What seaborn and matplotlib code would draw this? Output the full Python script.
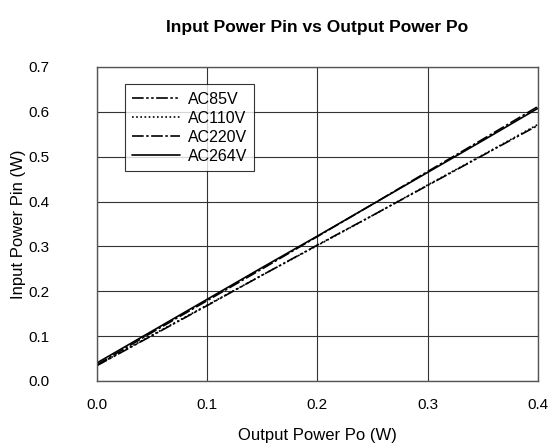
import numpy as np
import pandas as pd
import seaborn as sns
import matplotlib.pyplot as plt

output_power = [0.0, 0.05, 0.10, 0.15, 0.20, 0.25, 0.30, 0.35, 0.40]
ac85v = [0.034, 0.101, 0.168, 0.236, 0.303, 0.369, 0.436, 0.503, 0.570]
ac110v = [0.035, 0.102, 0.169, 0.236, 0.302, 0.369, 0.437, 0.504, 0.572]
ac220v = [0.036, 0.108, 0.179, 0.250, 0.322, 0.394, 0.467, 0.539, 0.612]
ac264v = [0.040, 0.111, 0.182, 0.253, 0.323, 0.394, 0.465, 0.536, 0.608]

series = ["AC85V", "AC110V", "AC220V", "AC264V"]
dash_styles = {
    "AC85V": (0, (7, 1.5, 1.5, 1.5, 1.5, 1.5)),
    "AC110V": (0, (1, 1.5)),
    "AC220V": (0, (7, 1.5, 1.5, 1.5)),
    "AC264V": "-",
}

df = pd.DataFrame({
    "Po": output_power * 4,
    "Pin": ac85v + ac110v + ac220v + ac264v,
    "series": [s for s in series for _ in output_power],
})

sns.set_style("white")
plt.rcParams["font.family"] = ["Liberation Sans", "DejaVu Sans"]
plt.rcParams["text.color"] = "black"
plt.rcParams["axes.labelcolor"] = "black"
plt.rcParams["xtick.color"] = "black"
plt.rcParams["ytick.color"] = "black"

fig = plt.figure(figsize=(5.53, 4.48), dpi=100)
ax = fig.add_axes([0.175, 0.1496, 0.798, 0.701])

for name in series:
    sns.lineplot(
        data=df[df["series"] == name],
        x="Po",
        y="Pin",
        color="black",
        linewidth=1.2,
        linestyle=dash_styles[name],
        label=name,
        ax=ax,
    )

ax.set_xlim(0, 0.4)
ax.set_ylim(0, 0.7)
ax.set_xticks(np.arange(0, 0.41, 0.1))
ax.set_yticks(np.arange(0, 0.71, 0.1))
ax.set_xticklabels([f"{v:.1f}" for v in np.arange(0, 0.41, 0.1)])
ax.set_yticklabels([f"{v:.1f}" for v in np.arange(0, 0.71, 0.1)])
ax.tick_params(length=0, labelsize=11)
ax.tick_params(axis="y", pad=34)
ax.tick_params(axis="x", pad=12)
ax.grid(True, color="#333333", linewidth=0.8)
for sp in ax.spines.values():
    sp.set_color("#555555")
    sp.set_linewidth(1.0)

ax.set_xlabel("Output Power P\u1d0f (W)", fontsize=12, labelpad=12)
ax.set_ylabel("Input Power Pin (W)", fontsize=12, labelpad=2)
ax.set_title("Input Power Pin vs Output Power P\u1d0f", fontsize=12.5,
             fontweight="bold", pad=25)

leg = ax.legend(
    loc="upper left",
    bbox_to_anchor=(0.045, 0.97),
    frameon=True,
    fancybox=False,
    edgecolor="black",
    fontsize=11.5,
    handlelength=3.0,
    handletextpad=0.5,
    borderpad=0.45,
    labelspacing=0.25,
)
leg.get_frame().set_linewidth(0.8)

fig.savefig("out.png", dpi=100)
